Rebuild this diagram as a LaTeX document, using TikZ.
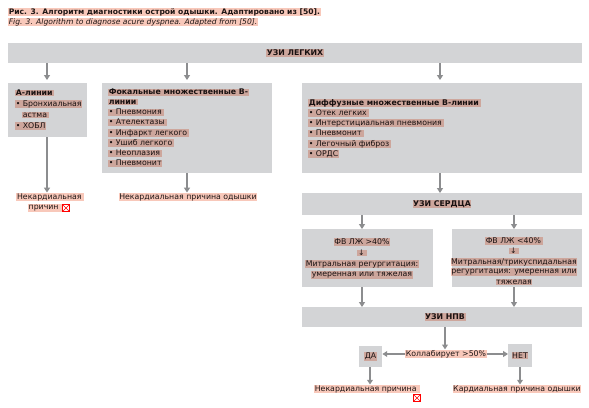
\documentclass[tikz,border=0pt]{standalone}
\usepackage{fontspec}
\setmainfont{DejaVu Sans}
\usetikzlibrary{arrows.meta}
\definecolor{boxg}{RGB}{211,212,214}
\definecolor{hl}{RGB}{248,200,186}
\definecolor{arr}{RGB}{140,141,143}
\definecolor{txt}{RGB}{30,27,28}
\begin{document}
\begin{tikzpicture}[x=1pt,y=-1pt,
  box/.style={fill=boxg, draw=none, inner sep=0, anchor=north west},
  t/.style={fill=hl, inner sep=0.6pt, text=txt, blend mode=multiply, font=\fontsize{7.8}{9}\selectfont},
  tb/.style={t, font=\fontsize{7.8}{9}\selectfont\bfseries},
  tl/.style={t, anchor=west},
  tbl/.style={tb, anchor=west},
  ar/.style={draw=arr, line width=1.8pt, -{Triangle[length=4.8pt,width=5.8pt]}},
  miss/.style={draw=red, fill=white, line width=0.8pt, minimum size=6.5pt, inner sep=0}]
\useasboundingbox (0,0) rectangle (589,407);
% title
\node[tbl, font=\fontsize{7.6}{9}\selectfont\bfseries] (title1) at (8,12) {Рис. 3. Алгоритм диагностики острой одышки. Адаптировано из [50].};
\node[tl, font=\fontsize{7.6}{9}\selectfont\itshape] (title2) at (8,22) {Fig. 3. Algorithm to diagnose acure dyspnea. Adapted from [50].};
% top box
\node[box, minimum width=574pt, minimum height=20pt] (lung) at (8,43) {};
\node[tb] (lungt) at (295,53) {УЗИ ЛЕГКИХ};
% A box
\node[box, minimum width=79pt, minimum height=54pt] (abox) at (8,83) {};
\node[tbl] (a1) at (15,93) {А-линии\,};
\node[tl] (a2) at (15,104) {• Бронхиальная};
\node[tl] (a3) at (22,115) {астма\,};
\node[tl] (a4) at (15,126) {• ХОБЛ};
% focal box
\node[box, minimum width=170pt, minimum height=90pt] (fbox) at (102,83) {};
\node[tbl] (f1) at (108,92) {Фокальные множественные В-};
\node[tbl] (f2) at (108,102) {линии\,};
\node[tl] (f3) at (108,112) {• Пневмония\,};
\node[tl] (f4) at (108,122) {• Ателектазы\,};
\node[tl] (f5) at (108,133) {• Инфаркт легкого\,};
\node[tl] (f6) at (108,143) {• Ушиб легкого\,};
\node[tl] (f7) at (108,153) {• Неоплазия\,};
\node[tl] (f8) at (108,163) {• Пневмонит};
% diffuse box
\node[box, minimum width=280pt, minimum height=90pt] (dbox) at (302,83) {};
\node[tbl] (d1) at (308,103) {Диффузные множественные В-линии\,};
\node[tl] (d2) at (308,113) {• Отек легких\,};
\node[tl] (d3) at (308,123) {• Интерстициальная пневмония\,};
\node[tl] (d4) at (308,133) {• Пневмонит\,};
\node[tl] (d5) at (308,144) {• Легочный фиброз\,};
\node[tl] (d6) at (308,154) {• ОРДС};
% outcomes left
\node[t] (na1) at (50,197) {Некардиальная\,};
\node[t] (na2) at (46,208) {причин\phantom{а}};
\node[miss] (x1) at (66,208) {};
\draw[red, line width=0.6pt] (x1.north west) -- (x1.south east) (x1.north east) -- (x1.south west);
\node[t] (nf) at (188,197) {Некардиальная причина одышки};
% heart box
\node[box, minimum width=280pt, minimum height=22pt] (heart) at (302,193) {};
\node[tb] (heartt) at (442,204) {УЗИ СЕРДЦА};
% LVEF boxes
\node[box, minimum width=131pt, minimum height=58pt] (lbox) at (302,229) {};
\node[t] (l1) at (362,242) {ФВ ЛЖ >40\%};
\node[t] (l2) at (362,253) {↓\,};
\node[t] (l3) at (362,264) {Митральная регургитация:};
\node[t] (l4) at (362,275) {умеренная или тяжелая};
\node[box, minimum width=130pt, minimum height=58pt] (rbox) at (452,229) {};
\node[t] (r1) at (514,241) {ФВ ЛЖ <40\%\,};
\node[t] (r2) at (514,251) {↓\,};
\node[t] (r3) at (514,262) {Митральная/трикуспидальная};
\node[t] (r4) at (514,272) {регургитация: умеренная или};
\node[t] (r5) at (514,282) {тяжелая};
% IVC box
\node[box, minimum width=280pt, minimum height=20pt] (ivc) at (302,307) {};
\node[tb] (ivct) at (445,317) {УЗИ НПВ};
\node[t] (coll) at (446,354) {Коллабирует >50\%};
\node[box, minimum width=23pt, minimum height=21pt] (da) at (359,346) {};
\node[t] (dat) at (370.5,356.5) {ДА};
\node[box, minimum width=24pt, minimum height=23pt] (net) at (508,344) {};
\node[t] (nett) at (520,355.5) {НЕТ};
\node[t] (nda) at (367,389) {Некардиальная причина\,\,};
\node[miss] (x2) at (417,398) {};
\draw[red, line width=0.6pt] (x2.north west) -- (x2.south east) (x2.north east) -- (x2.south west);
\node[t] (knet) at (517,389) {Кардиальная причина одышки};
% arrows
\draw[ar] (47,63) -- (47,80);
\draw[ar] (187,63) -- (187,80);
\draw[ar] (440,63) -- (440,80);
\draw[ar] (47,137) -- (na1.north -| 47,0);
\draw[ar] (187,173) -- (nf.north -| 187,0);
\draw[ar] (440,173) -- (heart.north -| 440,0);
\draw[ar] (362,215) -- (lbox.north -| 362,0);
\draw[ar] (514,215) -- (rbox.north -| 514,0);
\draw[ar] (362,287) -- (ivc.north -| 362,0);
\draw[ar] (514,287) -- (ivc.north -| 514,0);
\draw[ar] (445,327) -- (coll.north -| 445,0);
\draw[ar] (coll.west) -- (da.east |- coll.west);
\draw[ar] (coll.east) -- (net.west |- coll.east);
\draw[ar] (370,367) -- (nda.north -| 370,0);
\draw[ar] (520,367) -- (knet.north -| 520,0);
\end{tikzpicture}
\end{document}
